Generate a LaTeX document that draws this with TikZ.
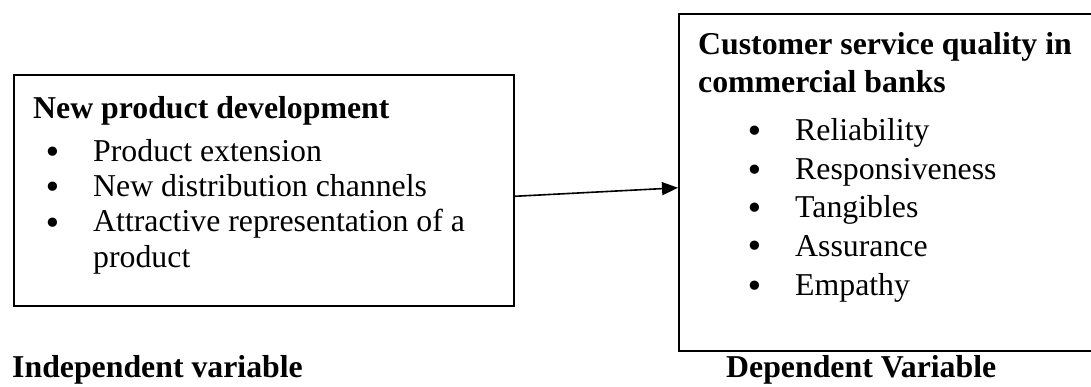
\documentclass[tikz,border=0pt]{standalone}
\usepackage{fontspec}
\setmainfont{Liberation Serif}
\newfontfamily\bulfont{DejaVu Sans}
\usetikzlibrary{arrows.meta}
\tikzset{
  box/.style={draw, line width=1.6pt, inner sep=0pt, anchor=north west},
  txt/.style={anchor=base west, inner sep=0pt, font=\fontsize{31.8}{36}\selectfont},
  btxt/.style={txt, font=\fontsize{31.8}{36}\selectfont\bfseries},
  bul/.style={anchor=base, inner sep=0pt, font=\bulfont\fontsize{31.8}{36}\selectfont},
  conn/.style={line width=1.6pt, -{Triangle[length=16pt,width=13pt]}}
}
\begin{document}
\begin{tikzpicture}[x=1pt,y=-1pt]
\useasboundingbox (0,0) rectangle (1091,387);
% boxes
\node[box, minimum width=500pt, minimum height=231pt] (left) at (13,74) {};
\node[box, minimum width=420pt, minimum height=337pt] (right) at (678,13) {};
% left box text
\node[btxt] (lt) at (33,119) {New product development};
\node[bul] (lb1) at (53,164) {•};
\node[txt] (li1) at (93,162) {Product extension};
\node[bul] (lb2) at (53,199) {•};
\node[txt] (li2) at (93,197) {New distribution channels};
\node[bul] (lb3) at (53,234) {•};
\node[txt] (li3) at (93,232) {Attractive representation of a};
\node[txt] (li3b) at (93,267) {product};
% right box text
\node[btxt] (rt1) at (698,55) {Customer service quality in};
\node[btxt] (rt2) at (698,93) {commercial banks};
\node[bul] (rb1) at (755,143) {•};
\node[txt] (ri1) at (795,141) {Reliability};
\node[bul] (rb2) at (755,182) {•};
\node[txt] (ri2) at (795,180) {Responsiveness};
\node[bul] (rb3) at (755,220) {•};
\node[txt] (ri3) at (795,218) {Tangibles};
\node[bul] (rb4) at (755,258) {•};
\node[txt] (ri4) at (795,256) {Assurance};
\node[bul] (rb5) at (755,297) {•};
\node[txt] (ri5) at (795,295) {Empathy};
% captions
\node[btxt] (indep) at (12,377) {Independent variable};
\node[btxt] (dep) at (726,377) {Dependent Variable};
% connector
\draw[conn] ([yshift=-6pt]left.east) -- ([yshift=-5.5pt]right.west);
\end{tikzpicture}
\end{document}
